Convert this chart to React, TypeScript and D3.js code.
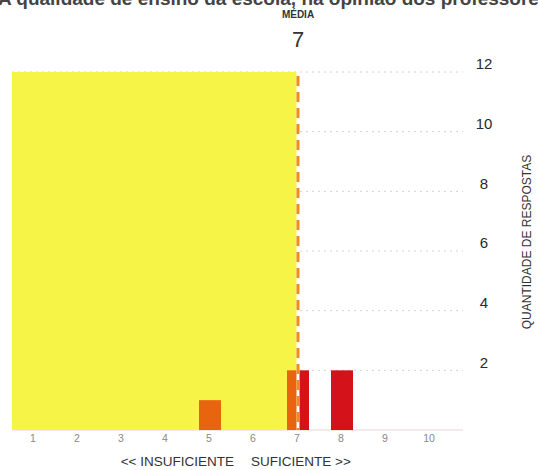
import * as d3 from "d3";

const SCORES = [1, 2, 3, 4, 5, 6, 7, 8, 9, 10];
const COUNTS = [0, 0, 0, 0, 1, 0, 2, 2, 0, 0];
const Y_TICKS = [2, 4, 6, 8, 10, 12];
const TITLE = "A qualidade de ensino da escola, na opinião dos professores";
const MEAN_LABEL = "MÉDIA";
const Y_TITLE = "QUANTIDADE DE RESPOSTAS";
const LOW_LABEL = "<< INSUFICIENTE";
const HIGH_LABEL = "SUFICIENTE >>";

const WIDTH = 538;
const HEIGHT = 470;
const FONT = "'Liberation Sans', Arial, Helvetica, sans-serif";
const YELLOW = "#f6f446";
const ORANGE = "#e9640e";
const RED = "#d41219";
const MEAN_COLOR = "#ec8a2a";
const BAR_WIDTH = 22;
const GRID_RIGHT = 463;

export default function App() {
  const x = d3.scaleLinear().domain([0.5, 10.5]).range([12, 452]);
  const y = d3.scaleLinear().domain([0, 12]).range([430, 72]);

  const total = d3.sum(COUNTS);
  const mean = d3.sum(SCORES, (s, i) => s * COUNTS[i]) / total;
  const xm = x(mean);

  return (
    <svg
      width={WIDTH}
      height={HEIGHT}
      style={{ position: "absolute", left: 0, top: 0, background: "#fff" }}
      fontFamily={FONT}
    >
      {/* title, cut off at the top edge as in the source scan */}
      <text x={-2} y={5} fontSize={19} fontWeight="bold" fill="#444">
        {TITLE}
      </text>

      {/* grid */}
      {Y_TICKS.map((t) => (
        <line
          key={t}
          x1={x(0.5)}
          x2={GRID_RIGHT}
          y1={y(t)}
          y2={y(t)}
          stroke="#d2d2d2"
          strokeWidth={1}
          strokeDasharray="2 4"
        />
      ))}
      <line
        x1={x(0.5)}
        x2={GRID_RIGHT}
        y1={y(0)}
        y2={y(0)}
        stroke="#f1d3d3"
        strokeWidth={1}
      />

      {/* insufficient zone */}
      <rect
        x={x(0.5)}
        y={y(12)}
        width={xm - x(0.5)}
        height={y(0) - y(12)}
        fill={YELLOW}
      />

      {/* bars */}
      {SCORES.map((s, i) => {
        if (!COUNTS[i]) return null;
        const x0 = x(s) - BAR_WIDTH / 2;
        const x1 = x(s) + BAR_WIDTH / 2;
        const top = y(COUNTS[i]);
        const h = y(0) - top;
        const leftEnd = Math.min(x1, xm);
        const rightStart = Math.max(x0, xm);
        return (
          <g key={s}>
            {leftEnd > x0 && (
              <rect x={x0} y={top} width={leftEnd - x0} height={h} fill={ORANGE} />
            )}
            {x1 > rightStart && (
              <rect x={rightStart} y={top} width={x1 - rightStart} height={h} fill={RED} />
            )}
          </g>
        );
      })}

      {/* mean line */}
      <line x1={xm} x2={xm} y1={y(12)} y2={y(0)} stroke="#fff" strokeWidth={3} />
      <line
        x1={xm}
        x2={xm}
        y1={y(12) + 4}
        y2={y(0)}
        stroke={MEAN_COLOR}
        strokeWidth={3}
        strokeDasharray="10 6"
      />

      <text x={xm} y={18} fontSize={10} fontWeight="bold" fill="#333" textAnchor="middle">
        {MEAN_LABEL}
      </text>
      <text x={xm} y={47} fontSize={22} fill="#333" textAnchor="middle">
        {d3.format(".0f")(mean)}
      </text>

      {/* y labels */}
      {Y_TICKS.map((t) => (
        <text
          key={t}
          x={484}
          y={y(t) - 6.5}
          fontSize={15}
          fill="#2a2a2a"
          textAnchor="middle"
          dominantBaseline="middle"
        >
          {t}
        </text>
      ))}
      <text
        transform={`translate(531, ${y(6.3)}) rotate(-90)`}
        fontSize={12}
        fill="#333"
        textAnchor="middle"
      >
        {Y_TITLE}
      </text>

      {/* x labels */}
      {SCORES.map((s) => (
        <text key={s} x={x(s) - 1} y={442} fontSize={10.5} fill="#888" textAnchor="middle">
          {s}
        </text>
      ))}
      <text x={234} y={466} fontSize={13.5} fill="#333" textAnchor="end">
        {LOW_LABEL}
      </text>
      <text x={251} y={466} fontSize={13.5} fill="#333" textAnchor="start">
        {HIGH_LABEL}
      </text>
    </svg>
  );
}
